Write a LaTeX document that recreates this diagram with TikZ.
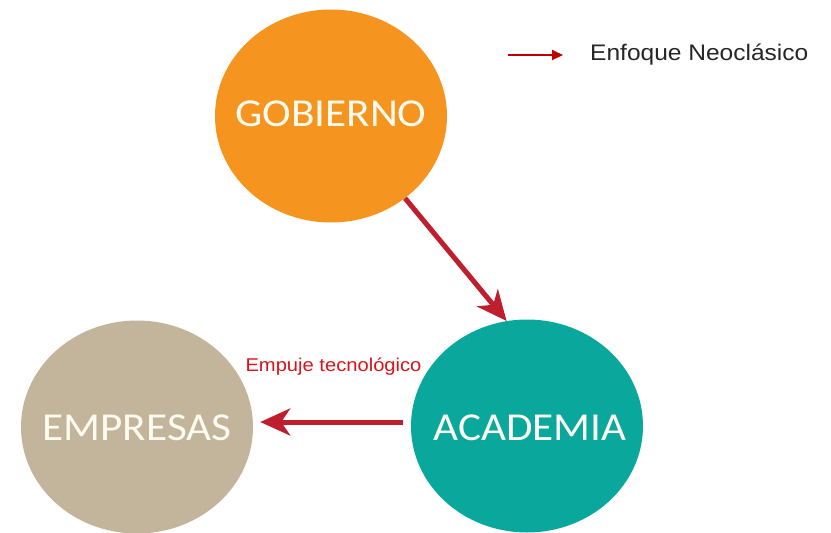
\documentclass[tikz,border=0pt]{standalone}
\usepackage{fontspec}
\usetikzlibrary{shapes.geometric,arrows.meta}
\newfontfamily\circfont[FakeStretch=1.09]{Carlito}
\newfontfamily\arialfont[FakeStretch=1.09]{Liberation Sans}
\definecolor{gobcol}{HTML}{F5951F}
\definecolor{empcol}{HTML}{C2B59B}
\definecolor{acacol}{HTML}{0AA89C}
\definecolor{arrcol}{HTML}{BF1E2E}
\definecolor{labcol}{HTML}{D9141C}
\definecolor{legcol}{HTML}{C00000}
\definecolor{txtcol}{HTML}{FDFBF0}
\tikzset{
  blob/.style={ellipse, minimum width=232pt, minimum height=213pt, inner sep=0pt, draw=none},
  blobtext/.style={text=txtcol, font=\circfont\fontsize{39.6}{40}\selectfont, inner sep=0pt},
  bigarrow/.style={draw=arrcol, line width=5pt, -{Stealth[length=30pt, width=27pt, inset=9pt]}},
}
\begin{document}
\begin{tikzpicture}[x=1pt,y=-1pt]
\useasboundingbox (0,0) rectangle (831,533);
\fill[white] (0,0) rectangle (831,533);
\node[blob, fill=gobcol] (G) at (331,116) {};
\node[blob, fill=empcol] (E) at (137,427) {};
\node[blob, fill=acacol] (A) at (527,426) {};
\node[blobtext] (Gt) at (331,114) {GOBIERNO};
\node[blobtext] (Et) at (137,428) {EMPRESAS};
\node[blobtext] (At) at (530,428) {ACADEMIA};
\draw[bigarrow] (G.-48) -- (A.101.5);
\draw[bigarrow, shorten <=8pt, shorten >=7pt] ([yshift=4pt]A.west) -- ([yshift=5pt]E.east);
\node[anchor=base, text=labcol, inner sep=0pt, font=\arialfont\fontsize{18.5}{20}\selectfont] (lab) at (333.5,371) {Empuje tecnológico};
\coordinate (l1) at (508,55);
\coordinate (l2) at (563,55);
\draw[draw=legcol, line width=2pt, -{Triangle[length=11pt, width=10pt]}] (l1) -- (l2);
\node[anchor=base west, text=black!85, inner sep=0pt, font=\arialfont\fontsize{22.5}{24}\selectfont] (leg) at (590,60) {Enfoque Neoclásico};
\end{tikzpicture}
\end{document}
